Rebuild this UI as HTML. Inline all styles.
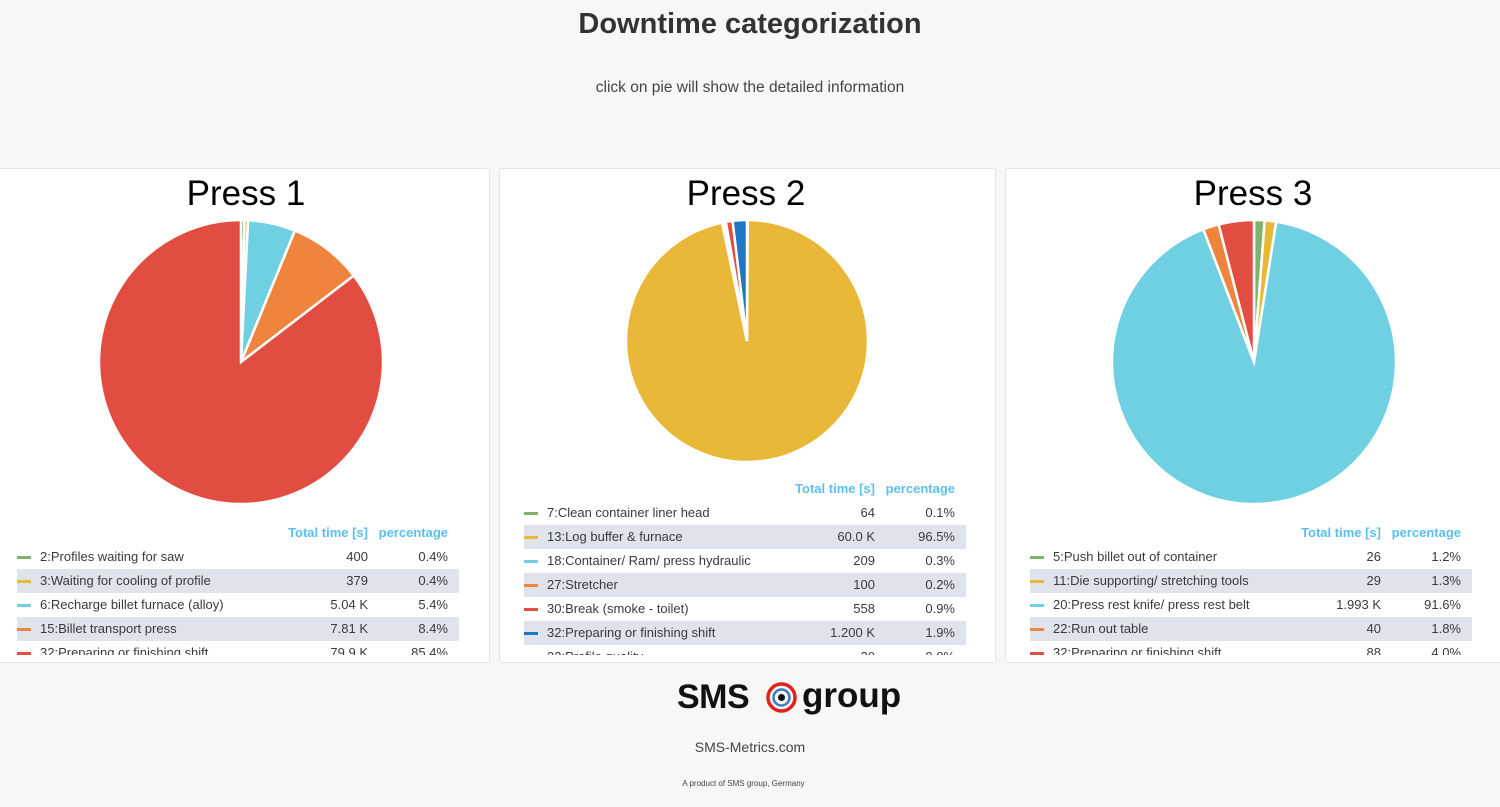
<!DOCTYPE html>
<html><head><meta charset="utf-8"><style>
body{margin:0;width:1500px;height:807px;background:#f7f7f8;font-family:"Liberation Sans",Arial,sans-serif;position:relative;overflow:hidden;color:#333}
.abs{position:absolute}
.panel{position:absolute;top:168px;height:493px;background:#fff;border:1px solid #e3e4e6;border-radius:3px;overflow:hidden}
.pt{position:absolute;top:174px;font-size:35px;color:#000;text-align:center;width:300px}
.tbl{position:absolute;overflow:hidden;font-size:13px;color:#3a3a3a}
.row{position:relative;height:24px;line-height:24px}
.row.s{background:#dee3ec}
.mk{position:absolute;left:0;top:11px;width:14px;height:3px}
.lb{position:absolute;left:23px}
.v1{position:absolute;right:91px}
.v2{position:absolute;right:11px}
.hd{position:relative;height:24px;line-height:24px;color:#5bc0f0;font-weight:bold;font-size:13px}
</style></head><body>
<div class="abs" style="top:8px;width:1500px;text-align:center;font-size:29px;font-weight:bold;color:#333">Downtime categorization</div>
<div class="abs" style="top:79px;width:1500px;text-align:center;font-size:15.5px;color:#444">click on pie will show the detailed information</div>

<div class="panel" style="left:-10px;width:498px"></div>
<div class="panel" style="left:499px;width:495px"></div>
<div class="panel" style="left:1005px;width:505px"></div>
<div class="pt" style="left:96px">Press 1</div>
<div class="pt" style="left:596px">Press 2</div>
<div class="pt" style="left:1103px">Press 3</div>

<svg class="abs" style="left:0;top:0" width="1500" height="807" id="pies"></svg>

<div class="tbl" style="left:17px;top:521px;width:442px;height:134px">
<div class="hd"><span class="v1">Total time [s]</span><span class="v2">percentage</span></div>
<div class="row"><i class="mk" style="background:#7eb26d"></i><span class="lb">2:Profiles waiting for saw</span><span class="v1">400</span><span class="v2">0.4%</span></div>
<div class="row s"><i class="mk" style="background:#eab839"></i><span class="lb">3:Waiting for cooling of profile</span><span class="v1">379</span><span class="v2">0.4%</span></div>
<div class="row"><i class="mk" style="background:#6ed0e0"></i><span class="lb">6:Recharge billet furnace (alloy)</span><span class="v1">5.04 K</span><span class="v2">5.4%</span></div>
<div class="row s"><i class="mk" style="background:#ef843c"></i><span class="lb">15:Billet transport press</span><span class="v1">7.81 K</span><span class="v2">8.4%</span></div>
<div class="row"><i class="mk" style="background:#e24d42"></i><span class="lb">32:Preparing or finishing shift</span><span class="v1">79.9 K</span><span class="v2">85.4%</span></div>
</div>

<div class="tbl" style="left:524px;top:477px;width:442px;height:178px">
<div class="hd"><span class="v1">Total time [s]</span><span class="v2">percentage</span></div>
<div class="row"><i class="mk" style="background:#7eb26d"></i><span class="lb">7:Clean container liner head</span><span class="v1">64</span><span class="v2">0.1%</span></div>
<div class="row s"><i class="mk" style="background:#eab839"></i><span class="lb">13:Log buffer &amp; furnace</span><span class="v1">60.0 K</span><span class="v2">96.5%</span></div>
<div class="row"><i class="mk" style="background:#6ed0e0"></i><span class="lb">18:Container/ Ram/ press hydraulic</span><span class="v1">209</span><span class="v2">0.3%</span></div>
<div class="row s"><i class="mk" style="background:#ef843c"></i><span class="lb">27:Stretcher</span><span class="v1">100</span><span class="v2">0.2%</span></div>
<div class="row"><i class="mk" style="background:#e24d42"></i><span class="lb">30:Break (smoke - toilet)</span><span class="v1">558</span><span class="v2">0.9%</span></div>
<div class="row s"><i class="mk" style="background:#1f78c1"></i><span class="lb">32:Preparing or finishing shift</span><span class="v1">1.200 K</span><span class="v2">1.9%</span></div>
<div class="row"><i class="mk" style="background:#ba43a9"></i><span class="lb">33:Profile quality</span><span class="v1">30</span><span class="v2">0.0%</span></div>
</div>

<div class="tbl" style="left:1030px;top:521px;width:442px;height:134px">
<div class="hd"><span class="v1">Total time [s]</span><span class="v2">percentage</span></div>
<div class="row"><i class="mk" style="background:#7eb26d"></i><span class="lb">5:Push billet out of container</span><span class="v1">26</span><span class="v2">1.2%</span></div>
<div class="row s"><i class="mk" style="background:#eab839"></i><span class="lb">11:Die supporting/ stretching tools</span><span class="v1">29</span><span class="v2">1.3%</span></div>
<div class="row"><i class="mk" style="background:#6ed0e0"></i><span class="lb">20:Press rest knife/ press rest belt</span><span class="v1">1.993 K</span><span class="v2">91.6%</span></div>
<div class="row s"><i class="mk" style="background:#ef843c"></i><span class="lb">22:Run out table</span><span class="v1">40</span><span class="v2">1.8%</span></div>
<div class="row"><i class="mk" style="background:#e24d42"></i><span class="lb">32:Preparing or finishing shift</span><span class="v1">88</span><span class="v2">4.0%</span></div>
</div>

<div class="abs" style="left:677px;top:678px;font-size:34px;font-weight:900;color:#111;letter-spacing:-0.5px">SMS</div>
<svg class="abs" style="left:765px;top:681px" width="33" height="33"><circle cx="16.5" cy="16.5" r="13.5" fill="none" stroke="#e2231a" stroke-width="3.5"/><circle cx="16.5" cy="16.5" r="8" fill="none" stroke="#3a7bc8" stroke-width="2.5"/><circle cx="16.5" cy="16.5" r="3.5" fill="#111"/></svg>
<div class="abs" style="left:802px;top:676px;font-size:35px;font-weight:900;color:#111">group</div>
<div class="abs" style="top:739px;width:1500px;text-align:center;font-size:14px;color:#444">SMS-Metrics.com</div>
<div class="abs" style="top:779px;width:1487px;text-align:center;font-size:8px;color:#444">A product of SMS group, Germany</div>

<script>
var C={g:"#7eb26d",y:"#eab839",c:"#6ed0e0",o:"#ef843c",r:"#e24d42",b:"#1f78c1"};
function pie(cx,cy,R,data){var s=document.getElementById('pies'),a=0,tot=0;data.forEach(d=>tot+=d[0]);
data.forEach(d=>{var a2=a+d[0]/tot*2*Math.PI;var x1=cx+R*Math.sin(a),y1=cy-R*Math.cos(a),x2=cx+R*Math.sin(a2),y2=cy-R*Math.cos(a2);
var p=document.createElementNS("http://www.w3.org/2000/svg","path");
p.setAttribute("d","M"+cx+","+cy+"L"+x1+","+y1+"A"+R+","+R+" 0 "+((a2-a)>Math.PI?1:0)+" 1 "+x2+","+y2+"Z");
p.setAttribute("fill",C[d[1]]);p.setAttribute("stroke","#fff");p.setAttribute("stroke-width","2.5");s.appendChild(p);a=a2;});}
pie(241,362,142,[[0.4,'g'],[0.4,'y'],[5.4,'c'],[8.4,'o'],[85.4,'r']]);
pie(747,341,121,[[0.1,'g'],[96.5,'y'],[0.3,'c'],[0.2,'o'],[0.9,'r'],[1.9,'b']]);
pie(1254,362,142,[[1.2,'g'],[1.3,'y'],[91.6,'c'],[1.8,'o'],[4.0,'r']]);
</script>
</body></html>
